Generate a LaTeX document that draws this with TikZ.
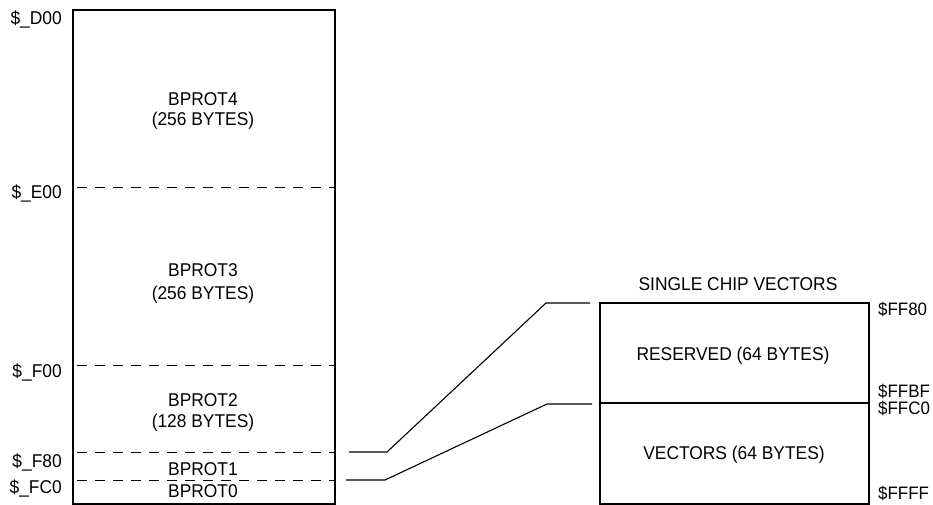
\documentclass[tikz,border=0pt]{standalone}
\usepackage{fontspec}
\setmainfont{Liberation Sans}[FakeStretch=0.94]
\begin{document}
\begin{tikzpicture}[x=1pt,y=-1pt,
  box/.style={draw=black,line width=1.8pt},
  sep/.style={draw=black,line width=1pt,dash pattern=on 10pt off 8pt},
  conn/.style={draw=black,line width=1.1pt},
  txt/.style={font=\fontsize{18.5}{20}\selectfont,inner sep=0pt},
  addrl/.style={txt,anchor=east},
  addrr/.style={font=\fontsize{18}{20}\selectfont,inner sep=0pt,anchor=west}]
\useasboundingbox (0,0) rectangle (933,504);
% left memory block
\coordinate (mTL) at (73,10);
\coordinate (mBR) at (335,504);
\draw[box] (mTL) rectangle (mBR);
\coordinate (s1L) at (77,187); \coordinate (s1R) at (335,187);
\coordinate (s2L) at (77,365); \coordinate (s2R) at (335,365);
\coordinate (s3L) at (77,452); \coordinate (s3R) at (335,452);
\coordinate (s4L) at (77,480); \coordinate (s4R) at (335,480);
\draw[sep] (s1L) -- (s1R);
\draw[sep] (s2L) -- (s2R);
\draw[sep] (s3L) -- (s3R);
\draw[sep] (s4L) -- (s4R);
\node[txt] (b4a) at (203,99) {BPROT4};
\node[txt] (b4b) at (203,121) {(256 BYTES)};
\node[txt] (b3a) at (203,270) {BPROT3};
\node[txt] (b3b) at (203,295) {(256 BYTES)};
\node[txt] (b2a) at (203,400) {BPROT2};
\node[txt] (b2b) at (203,423) {(128 BYTES)};
\node[txt] (b1) at (203,469) {BPROT1};
\node[txt] (b0) at (203,491) {BPROT0};
\node[addrl] (aD00) at (62,19) {\$\_D00};
\node[addrl] (aE00) at (62,193) {\$\_E00};
\node[addrl] (aF00) at (62,372) {\$\_F00};
\node[addrl] (aF80) at (62,462) {\$\_F80};
\node[addrl] (aFC0) at (62,488) {\$\_FC0};
% right block
\coordinate (vTL) at (600,303);
\coordinate (vBR) at (869,504);
\draw[box] (vTL) rectangle (vBR);
\coordinate (vML) at (600,403); \coordinate (vMR) at (869,403);
\draw[conn] (vML) -- (vMR);
\node[txt] (title) at (738,284) {SINGLE CHIP VECTORS};
\node[txt] (res) at (733,356) {RESERVED (64 BYTES)};
\node[txt] (vec) at (734,455) {VECTORS (64 BYTES)};
\node[addrr] (aFF80) at (878,309) {\$FF80};
\node[addrr] (aFFBF) at (878,391) {\$FFBF};
\node[addrr] (aFFC0) at (878,408) {\$FFC0};
\node[addrr] (aFFFF) at (878,493) {\$FFFF};
% connectors
\coordinate (c1a) at (349,452); \coordinate (c1b) at (387,452);
\coordinate (c1c) at (546,303); \coordinate (c1d) at (590,303);
\coordinate (c2a) at (346,480); \coordinate (c2b) at (385,480);
\coordinate (c2c) at (547,404); \coordinate (c2d) at (592,404);
\draw[conn] (c1a) -- (c1b) -- (c1c) -- (c1d);
\draw[conn] (c2a) -- (c2b) -- (c2c) -- (c2d);
\end{tikzpicture}
\end{document}
